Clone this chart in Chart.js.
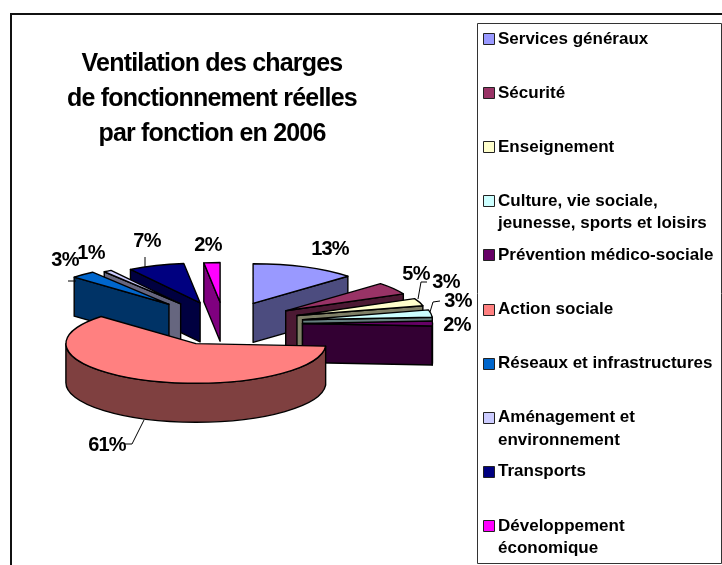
<!DOCTYPE html>
<html>
<head>
<meta charset="utf-8">
<style>
  html, body { margin: 0; padding: 0; background: #fff; }
  canvas { display: block; }
</style>
<script src="https://cdn.jsdelivr.net/npm/chart.js@4"></script>
</head>
<body>
<canvas id="pieChart" width="722" height="565"></canvas>
<script>
// Data
const categories = ['Services généraux', 'Sécurité', 'Enseignement', 'Culture, vie sociale, jeunesse, sports et loisirs',
    'Prévention médico-sociale', 'Action sociale', 'Réseaux et infrastructures', 'Aménagement et environnement',
    'Transports', 'Développement économique'];
const shares = [13, 5, 3, 3, 2, 61, 3, 1, 7, 2];
const sliceColors = ['#9999FF', '#993366', '#FFFFCC', '#CCFFFF', '#660066', '#FF8080', '#0066CC', '#CCCCFF', '#000080', '#FF00FF'];
const wallColors = ['#4C4C7F', '#4C1933', '#7F7F66', '#667F7F', '#330033', '#7F4040', '#003366', '#66667F', '#000040', '#7F007F'];
const titleLines = ['Ventilation des charges', 'de fonctionnement réelles', 'par fonction en 2006'];
const legendLines = [['Services généraux'], ['Sécurité'], ['Enseignement'], ['Culture, vie sociale,', 'jeunesse, sports et loisirs'],
    ['Prévention médico-sociale'], ['Action sociale'], ['Réseaux et infrastructures'], ['Aménagement et', 'environnement'],
    ['Transports'], ['Développement', 'économique']];

// Look of the 3D pie
const squash = 0.305;
const depth = 39;
const explode = [72, 74, 77, 79, 78, 72, 84, 78, 72, 70];

// Where the percent labels and their leader lines sit
const labelPos = [[330, 249], [416, 274], [446, 282], [458, 301], [457, 325], [107, 445], [65, 260], [91, 253], [147, 241], [208, 245]];
const leaders = [null, null, [[427, 282], [421, 282], [418, 299]], [[440, 301], [433, 302], [430, 312]], null,
    [[144, 420], [132, 444], [125, 444]], [[68, 281], [76, 281]], null, [[145, 257], [145, 267]], null];

function sliceAngles(arc) {
    const p = arc.getProps(['x', 'y', 'startAngle', 'endAngle', 'outerRadius']);
    p.mid = (p.startAngle + p.endAngle) / 2;
    return p;
}

// outer wall and the cut walls that face the viewer
function drawWalls(ctx, p, i) {
    const cx = p.x + Math.cos(p.mid) * explode[i];
    const cy = p.y + Math.sin(p.mid) * explode[i] * squash;
    const rx = p.outerRadius;
    const ry = p.outerRadius * squash;
    const rim = a => [cx + rx * Math.cos(a), cy + ry * Math.sin(a)];

    const face = pts => {
        ctx.beginPath();
        pts.forEach((q, n) => n ? ctx.lineTo(q[0], q[1]) : ctx.moveTo(q[0], q[1]));
        ctx.closePath();
        ctx.fill();
        ctx.stroke();
    };
    ctx.fillStyle = wallColors[i];
    ctx.strokeStyle = '#000';
    ctx.lineWidth = 1.4;
    ctx.lineJoin = 'round';

    [p.startAngle, p.endAngle].forEach((a, n) => {
        const facing = n === 0 ? Math.cos(a) < 0 : Math.cos(a) > 0;
        if (!facing) return;
        const q = rim(a);
        face([[cx, cy], q, [q[0], q[1] + depth], [cx, cy + depth]]);
    });

    const from = Math.max(p.startAngle, 0);
    const to = Math.min(p.endAngle, Math.PI);
    if (to > from) {
        ctx.beginPath();
        ctx.ellipse(cx, cy, rx, ry, 0, from, to);
        ctx.ellipse(cx, cy + depth, rx, ry, 0, to, from, true);
        ctx.closePath();
        ctx.fill();
        ctx.stroke();
    }
    return { cx, cy, rx, ry };
}

const pie3d = {
    id: 'pie3d',
    beforeDatasetsDraw(chart) {
        const ctx = chart.ctx;
        const arcs = chart.getDatasetMeta(0).data;
        const order = arcs.map((a, i) => i).sort((a, b) =>
            Math.sin(sliceAngles(arcs[a]).mid) - Math.sin(sliceAngles(arcs[b]).mid));

        order.forEach(i => {
            const p = sliceAngles(arcs[i]);
            const g = drawWalls(ctx, p, i);

            // top face comes from the library's arc, drawn through the squashed transform
            ctx.save();
            ctx.translate(g.cx, g.cy);
            ctx.scale(1, squash);
            ctx.translate(-p.x, -p.y);
            arcs[i].draw(ctx);
            ctx.restore();

            ctx.beginPath();
            ctx.moveTo(g.cx, g.cy);
            ctx.ellipse(g.cx, g.cy, g.rx, g.ry, 0, p.startAngle, p.endAngle);
            ctx.closePath();
            ctx.strokeStyle = '#000';
            ctx.lineWidth = 1.4;
            ctx.lineJoin = 'round';
            ctx.stroke();
        });
        return false;
    },
    afterDraw(chart) {
        const ctx = chart.ctx;
        ctx.save();
        ctx.textBaseline = 'middle';

        // frame
        ctx.fillStyle = '#111';
        ctx.fillRect(10, 13, 712, 2);
        ctx.fillRect(10, 13, 2, 552);
        ctx.strokeStyle = '#333';
        ctx.lineWidth = 1;
        ctx.strokeRect(477.5, 23.5, 244, 540);

        // title
        ctx.fillStyle = '#000';
        ctx.textAlign = 'center';
        ctx.font = 'bold 25px "Liberation Sans"';
        ctx.letterSpacing = '-0.8px';
        titleLines.forEach((t, n) => ctx.fillText(t, 212, 64.5 + n * 34.7));

        // percent labels and leaders
        ctx.font = 'bold 20px "Liberation Sans"';
        ctx.letterSpacing = '-0.8px';
        shares.forEach((v, i) => ctx.fillText(v + '%', labelPos[i][0], labelPos[i][1]));
        ctx.strokeStyle = '#000';
        ctx.lineWidth = 1;
        leaders.forEach(l => {
            if (!l) return;
            ctx.beginPath();
            l.forEach((q, n) => n ? ctx.lineTo(q[0], q[1]) : ctx.moveTo(q[0], q[1]));
            ctx.stroke();
        });

        // legend
        ctx.textAlign = 'left';
        ctx.font = 'bold 17px "Liberation Sans"';
        ctx.letterSpacing = '0px';
        legendLines.forEach((lines, i) => {
            const rowY = 39 + i * 54.1;
            ctx.fillStyle = sliceColors[i];
            ctx.strokeStyle = '#222';
            ctx.lineWidth = 1;
            ctx.fillRect(483.5, Math.round(rowY) - 5.5, 11, 11);
            ctx.strokeRect(483.5, Math.round(rowY) - 5.5, 11, 11);
            ctx.fillStyle = '#000';
            lines.forEach((t, n) => ctx.fillText(t, 498, rowY + n * 22.5));
        });
        ctx.restore();
    }
};

new Chart(document.getElementById('pieChart').getContext('2d'), {
    type: 'pie',
    data: {
        labels: categories,
        datasets: [{
            data: shares,
            backgroundColor: sliceColors,
            borderWidth: 0
        }]
    },
    options: {
        responsive: false,
        animation: false,
        radius: 130,
        layout: { padding: { left: 0, right: 273, top: 82, bottom: 0 } },
        plugins: {
            legend: { display: false },
            tooltip: { enabled: false }
        }
    },
    plugins: [pie3d]
});
</script>
</body>
</html>
